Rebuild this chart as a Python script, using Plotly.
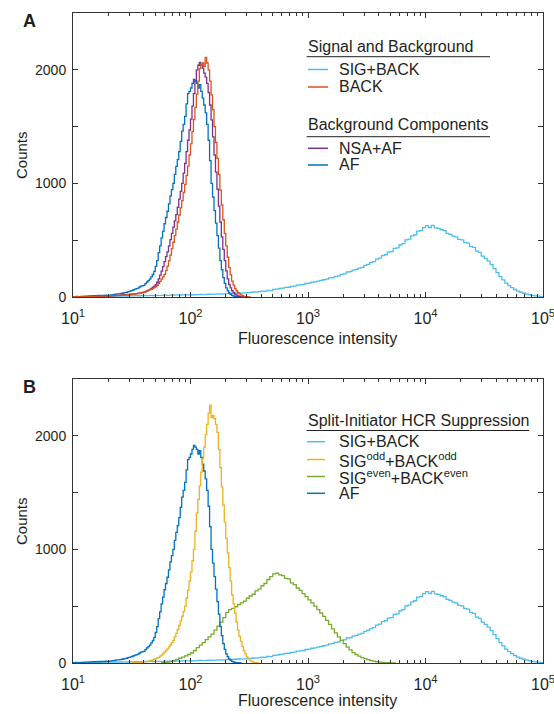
import numpy as np
import plotly.graph_objects as go

# ---------------- data: histogram counts per log10 bin ----------------
FINE = 0.0125
COARSE = 0.025

AF_START = 1.0
AF = [3, 4, 5, 4, 4, 6, 6, 7, 8, 7, 7, 9, 10, 11, 12, 11, 11, 13, 14, 13,
      13, 15, 16, 15, 15, 17, 19, 21, 22, 25, 27, 28, 29, 33, 35, 38, 40, 46, 50, 54,
      57, 64, 70, 74, 78, 88, 95, 100, 103, 118, 132, 145, 158, 178, 198, 225, 270, 320, 390, 450,
      520, 580, 645, 700, 755, 820, 890, 945, 1000, 1080, 1150, 1210, 1280, 1370, 1460, 1520, 1590, 1700, 1790, 1810,
      1840, 1880, 1915, 1900, 1880, 1840, 1870, 1810, 1750, 1690, 1620, 1520, 1380, 1200, 1000, 880, 760, 650, 540, 430,
      320, 240, 170, 120, 80, 55, 35, 24, 15, 9, 5, 3, 2, 1, 0]

NSA_AF_START = 1.0
NSA_AF = [2, 2, 3, 2, 2, 3, 4, 3, 3, 4, 5, 4, 4, 5, 6, 6, 7, 6, 6, 7,
          8, 8, 9, 9, 10, 11, 12, 12, 13, 14, 15, 15, 16, 18, 19, 20, 21, 22, 23, 25,
          26, 27, 28, 30, 32, 34, 36, 39, 42, 48, 55, 61, 68, 76, 86, 96, 108, 130, 160, 192,
          228, 268, 312, 355, 398, 450, 505, 560, 615, 670, 725, 790, 862, 930, 1000, 1090, 1175, 1280, 1380, 1470,
          1565, 1680, 1790, 1900, 2000, 2040, 2065, 2040, 2015, 1970, 1935, 1880, 1800, 1690, 1560, 1410, 1250, 1100, 950, 800,
          660, 530, 420, 320, 230, 160, 110, 80, 55, 38, 25, 16, 10, 6, 4, 2, 0]

BACK_START = 1.0
BACK = [2, 2, 2, 3, 3, 3, 3, 4, 4, 4, 4, 5, 5, 5, 5, 6, 6, 6, 7, 7,
        7, 8, 8, 9, 9, 10, 10, 11, 12, 12, 13, 14, 15, 16, 17, 18, 19, 20, 21, 22,
        24, 25, 27, 29, 31, 34, 37, 40, 44, 48, 53, 58, 63, 68, 74, 82, 90, 102, 118, 138,
        158, 178, 200, 235, 272, 318, 368, 425, 482, 540, 598, 660, 722, 785, 848, 920, 992, 1070, 1152, 1250,
        1348, 1455, 1562, 1670, 1785, 1900, 2010, 2040, 2060, 2030, 2110, 2060, 2000, 1900, 1780, 1650, 1500, 1360, 1220, 1080,
        940, 810, 680, 560, 450, 350, 260, 195, 140, 105, 75, 55, 40, 28, 18, 11, 6, 4, 2, 1, 0]

SIG_ODD_START = 1.5
SIG_ODD = [1, 2, 3, 3, 4, 5, 6, 8, 10, 12, 15, 17, 20, 24, 28, 33, 38, 44, 50, 60,
           70, 82, 95, 110, 125, 142, 160, 180, 200, 230, 260, 295, 330, 370, 410, 455, 500, 570, 640, 720,
           800, 900, 1000, 1160, 1320, 1440, 1560, 1680, 1800, 1900, 2010, 2100, 2200, 2270, 2160, 2180, 2150, 2100, 2030, 1880,
           1720, 1550, 1390, 1240, 1100, 970, 840, 720, 600, 520, 440, 360, 290, 235, 190, 145, 110, 80, 55, 38,
           25, 16, 10, 6, 3, 1, 0]

SIG_BACK_START = 1.0
SIG_BACK = [2, 3, 2, 4, 3, 5, 4, 6, 5, 6, 7, 6, 8, 7, 9, 8, 9, 10, 9, 11,
            10, 12, 11, 12, 13, 12, 14, 13, 15, 14, 15, 16, 15, 17, 16, 18, 17, 18, 19, 18,
            20, 19, 21, 22, 21, 23, 24, 23, 25, 27, 26, 28, 30, 29, 32, 33, 35, 34, 37, 38,
            40, 44, 43, 48, 51, 50, 58, 56, 67, 69, 75, 78, 85, 86, 93, 96, 104, 106, 110, 119,
            122, 130, 133, 140, 146, 152, 158, 168, 170, 182, 186, 200, 203, 220, 224, 236, 243, 255, 260, 278,
            288, 302, 312, 334, 342, 365, 372, 395, 400, 428, 432, 460, 470, 502, 510, 538, 548, 580, 585, 610,
            628, 612, 630, 608, 604, 592, 585, 560, 552, 536, 530, 508, 502, 480, 474, 446, 436, 404, 392, 360,
            340, 315, 285, 250, 215, 180, 150, 122, 100, 82, 66, 52, 42, 33, 26, 20, 15, 10, 7, 4, 0]

SIG_EVEN_START = 1.75
SIG_EVEN = [2, 5, 8, 14, 22, 32, 42, 52, 62, 75, 88, 110, 135, 158, 180, 205, 230, 255,
            290, 325, 360, 400, 445, 470, 480, 495, 515, 530, 545, 570, 590, 605, 635, 650,
            680, 700, 735, 760, 785, 790, 775, 770, 745, 740, 705, 690, 660, 640, 610, 585,
            555, 530, 500, 470, 440, 410, 375, 340, 300, 265, 230, 200, 170, 140, 115, 92,
            75, 60, 48, 38, 30, 22, 16, 11, 8, 5, 3, 2, 1, 0]

XTICKS = [10, 100, 1000, 10000, 100000]
XTICKTEXT = ["10<sup>1</sup>", "10<sup>2</sup>", "10<sup>3</sup>", "10<sup>4</sup>", "10<sup>5</sup>"]
YTICKS = [0, 500, 1000, 1500, 2000]
YTICKTEXT = ["0", "", "1000", "", "2000"]

C_LBLUE = "#4DBEEE"
C_ORANGE = "#D95319"
C_PURPLE = "#7E2F8E"
C_BLUE = "#0072BD"
C_YELLOW = "#EDB120"
C_GREEN = "#77AC30"
TXT = "#231F20"
AX = "#333333"
FONT = "Liberation Sans, Arial, Helvetica, sans-serif"

W, H = 554, 714
ML, MR, MT, MB = 73, 11, 13, 51
PW = W - ML - MR
PH = H - MT - MB


def px(x):
    return (x - ML) / PW


def py(y):
    return (H - MB - y) / PH


def step(start, width, vals):
    edges = 10 ** (start + width * np.arange(len(vals) + 1))
    y = list(vals) + [vals[-1]]
    return edges, y


fig = go.Figure()


def add(start, width, vals, color, xa, ya):
    x, y = step(start, width, vals)
    fig.add_trace(go.Scatter(x=x, y=y, mode="lines", line=dict(color=color, width=1.3, shape="hv"),
                             xaxis=xa, yaxis=ya, showlegend=False, hoverinfo="skip"))


# Panel A
add(SIG_BACK_START, COARSE, SIG_BACK, C_LBLUE, "x", "y")
add(AF_START, FINE, AF, C_BLUE, "x", "y")
add(NSA_AF_START, FINE, NSA_AF, C_PURPLE, "x", "y")
add(BACK_START, FINE, BACK, C_ORANGE, "x", "y")
# Panel B
add(SIG_BACK_START, COARSE, SIG_BACK, C_LBLUE, "x2", "y2")
add(SIG_EVEN_START, COARSE, SIG_EVEN, C_GREEN, "x2", "y2")
add(AF_START, FINE, AF, C_BLUE, "x2", "y2")
add(SIG_ODD_START, FINE, SIG_ODD, C_YELLOW, "x2", "y2")

xcommon = dict(type="log", range=[1, 5], tickmode="array", tickvals=XTICKS, ticktext=XTICKTEXT,
               ticks="inside", ticklen=5, tickwidth=1, tickcolor=AX, showline=True, linecolor=AX,
               linewidth=1, mirror="ticks", showgrid=False, zeroline=False, automargin=False,
               ticklabeloverflow="allow", ticklabelstandoff=7,
               tickfont=dict(family=FONT, size=16, color=TXT),
               minor=dict(ticks="inside", ticklen=3, tickwidth=1, tickcolor=AX,
                          tickvals=[m * 10 ** k for k in range(1, 5) for m in range(2, 10)]))
ycommon = dict(range=[0, 2500], tickmode="array", tickvals=YTICKS, ticktext=YTICKTEXT,
               ticks="inside", ticklen=5, tickwidth=1, tickcolor=AX, showline=True, linecolor=AX,
               linewidth=1, mirror="ticks", showgrid=False, zeroline=False, ticklabelstandoff=3,
               automargin=False, tickfont=dict(family=FONT, size=14, color=TXT))

topA, botA = py(13), py(297)
topB, botB = py(379), py(663)

fig.update_layout(
    width=W, height=H, margin=dict(l=ML, r=MR, t=MT, b=MB, autoexpand=False),
    paper_bgcolor="white", plot_bgcolor="white",
    font=dict(family=FONT, color=TXT, size=16),
    xaxis=dict(domain=[0, 1], anchor="y", **xcommon),
    yaxis=dict(domain=[botA, topA], anchor="x", **ycommon),
    xaxis2=dict(domain=[0, 1], anchor="y2", **xcommon),
    yaxis2=dict(domain=[botB, topB], anchor="x2", **ycommon),
)

ann = []
shapes = []


def text(x, y, s, size=16, xanchor="left", bold=False, angle=0):
    ann.append(dict(x=px(x), y=py(y), xref="paper", yref="paper", text=("<b>%s</b>" % s) if bold else s,
                    showarrow=False, xanchor=xanchor, yanchor="middle", textangle=angle,
                    font=dict(family=FONT, size=size, color=TXT)))


def hline(x0, x1, y, color, width=1):
    shapes.append(dict(type="line", xref="paper", yref="paper", x0=px(x0), x1=px(x1), y0=py(y), y1=py(y),
                       line=dict(color=color, width=width)))


# Panel labels
text(29.5, 21, "A", size=18, xanchor="center", bold=True)
text(29.5, 387, "B", size=18, xanchor="center", bold=True)

# Axis titles
for yc in (155, 521):
    text(21, yc, "Counts", size=15, xanchor="center", angle=-90)
text(317, 339, "Fluorescence intensity", size=16, xanchor="center")
text(317, 700, "Fluorescence intensity", size=16, xanchor="center")

# Legend A
text(306, 46, "Signal and Background")
hline(306.7, 490, 56.7, TXT)
for yy, lab, col in [(69.5, "SIG+BACK", C_LBLUE), (87, "BACK", C_ORANGE)]:
    hline(308, 328, yy, col, 1.5)
    text(337, yy, lab)
text(306, 125, "Background Components")
hline(306.7, 490, 136.7, TXT)
for yy, lab, col in [(148.3, "NSA+AF", C_PURPLE), (165, "AF", C_BLUE)]:
    hline(308, 328, yy, col, 1.5)
    text(337, yy, lab)

# Legend B
text(306, 420, "Split-Initiator HCR Suppression")
hline(306.7, 529.3, 430.5, TXT)
for yy, lab, col in [(441.7, "SIG+BACK", C_LBLUE),
                     (459.5, "SIG<sup>odd</sup>+BACK<sup>odd</sup>", C_YELLOW),
                     (476.5, "SIG<sup>even</sup>+BACK<sup>even</sup>", C_GREEN),
                     (493.3, "AF", C_BLUE)]:
    hline(307, 325, yy, col, 1.5)
    text(336.5, yy, lab)

fig.update_layout(annotations=ann, shapes=shapes)
fig.write_html("out.html")
